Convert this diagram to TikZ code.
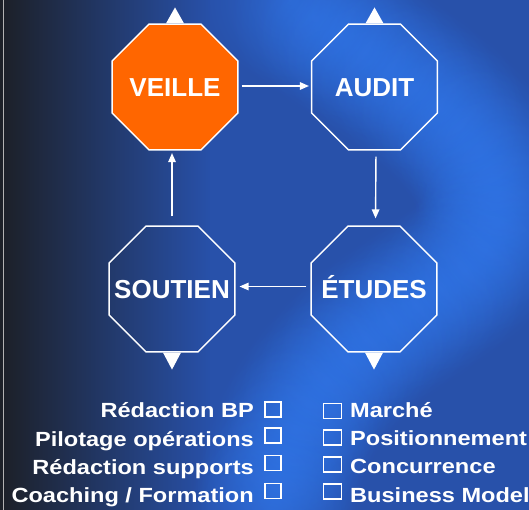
\documentclass[tikz,border=0pt]{standalone}
\usepackage{fontspec}
\setmainfont{Liberation Sans}
\newfontfamily\listfont[FakeStretch=1.15]{Liberation Sans}
\usetikzlibrary{shapes.geometric,arrows.meta,fadings}
\definecolor{bgblue}{HTML}{2851AA}
\definecolor{bgdark}{HTML}{1D2027}
\definecolor{streak}{HTML}{3179EE}
\definecolor{veilleorange}{HTML}{FF6600}
\pgfdeclareradialshading{glowshade}{\pgfpointorigin}{color(0bp)=(white); color(9bp)=(black!40); color(25bp)=(black); color(50bp)=(black)}
\pgfdeclarefading{softglow}{\pgfuseshading{glowshade}}
\begin{document}
\begin{tikzpicture}[x=1pt,y=-1pt,
  octo/.style={regular polygon, regular polygon sides=8, minimum size=136pt, inner sep=0pt,
    draw=white, line width=1.5pt},
  octolabel/.style={text=white, inner sep=0pt, text height=18.6pt, text depth=0pt,
    font=\bfseries\fontsize{26}{30}\selectfont},
  flow/.style={draw=white, line width=1.4pt, -{Triangle[length=9pt,width=7.5pt]}},
  marker/.style={fill=white},
  item/.style={text=white, inner sep=0pt, font=\listfont\bfseries\fontsize{20.5}{24}\selectfont},
  lbox/.style={draw=white, line width=1.2pt, minimum width=16pt, minimum height=15pt, inner sep=0pt},
  rbox/.style={draw=white, line width=1.2pt, minimum width=18pt, minimum height=15pt, inner sep=0pt},
]
\useasboundingbox (0,0) rectangle (529,510);
% background
\fill[bgblue] (0,0) rectangle (529,510);
\fill[bgdark, path fading=east] (0,0) rectangle (210,510);
\foreach \px/\py in {290/0,315/18,340/35,365/52,390/70,415/88,440/108,460/128,478/150,492/175,498/200,497/225,485/250,465/270,440/288,415/305,390/322,365/340,345/360,325/382,308/405,295/430,285/458,278/485,272/510}
  \fill[streak, path fading=softglow, opacity=0.45] (\px,\py) circle (85);
\draw[gray!60, line width=1pt] (3.5,0) -- (3.5,510);

% octagons
\node[octo, fill=veilleorange, label={[octolabel]center:VEILLE}] (veille) at (175,87) {};
\node[octo, label={[octolabel]center:AUDIT}] (audit) at (374.5,87) {};
\node[octo, label={[octolabel]center:SOUTIEN}] (soutien) at (172,289) {};
\node[octo, label={[octolabel]center:ÉTUDES}] (etudes) at (374,289) {};

% small triangles
\fill[marker] (veille.north) ++(-9,0) -- ++(18,0) -- ++(-9,-16) -- cycle;
\fill[marker] (audit.north) ++(-9,0) -- ++(18,0) -- ++(-9,-16) -- cycle;
\fill[marker] (soutien.south) ++(-9,0) -- ++(18,0) -- ++(-9,17) -- cycle;
\fill[marker] (etudes.south) ++(-9,0) -- ++(18,0) -- ++(-9,17) -- cycle;

% arrows
\draw[flow, shorten <=3pt, shorten >=2pt] ([yshift=1pt]veille.east) -- ([yshift=1pt]audit.west);
\draw[flow, shorten <=6pt, shorten >=7pt] ([xshift=1.5pt]audit.south) -- ([xshift=1.5pt]etudes.north);
\draw[flow, shorten <=4pt, shorten >=4pt] ([yshift=2.5pt]etudes.west) -- ([yshift=2.5pt]soutien.east);
\draw[flow, shorten <=9pt, shorten >=2.5pt] (soutien.north) -- (soutien.north |- veille.south);

% left list
\node[item, anchor=base east] (l1) at (254,417) {Rédaction BP};
\node[item, anchor=base east] (l2) at (254,446) {Pilotage opérations};
\node[item, anchor=base east] (l3) at (254,474) {Rédaction supports};
\node[item, anchor=base east] (l4) at (254,502) {Coaching / Formation};
\node[lbox] (lb1) at (273,409.5) {};
\node[lbox] (lb2) at (273,435.5) {};
\node[lbox] (lb3) at (273,463) {};
\node[lbox] (lb4) at (273,491) {};

% right list
\node[rbox] (rb1) at (332.5,411) {};
\node[rbox] (rb2) at (332.5,437.5) {};
\node[rbox] (rb3) at (332.5,464.5) {};
\node[rbox] (rb4) at (332.5,491.5) {};
\node[item, anchor=base west] (r1) at (350,417) {Marché};
\node[item, anchor=base west] (r2) at (350,445) {Positionnement};
\node[item, anchor=base west] (r3) at (350,473) {Concurrence};
\node[item, anchor=base west] (r4) at (350,502) {Business Model};
\end{tikzpicture}
\end{document}
